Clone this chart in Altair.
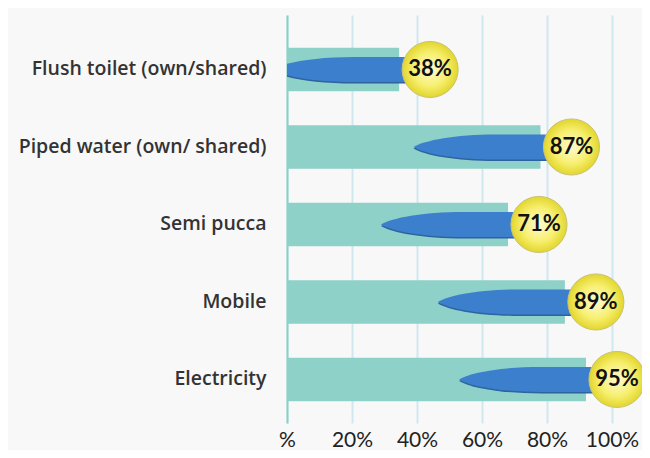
import altair as alt
import pandas as pd

categories = ["Flush toilet  (own/shared)", "Piped water (own/ shared)", "Semi pucca", "Mobile", "Electricity"]
values = [38, 87, 71, 89, 95]
bar_ends = [34.5, 78, 68, 85.5, 92]
labels = [f"{v}%" for v in values]

df = pd.DataFrame({"cat": categories, "value": values, "bar": bar_ends, "label": labels})

FONT = "Open Sans"
ELLIPSE = "M -2 0 C -1.85 -0.09 -1.45 -0.167 -0.9 -0.167 L 0 -0.167 L 0 0.167 L -0.9 0.167 C -1.45 0.167 -1.85 0.09 -2 0 Z"

yenc = alt.Y(
    "cat:N",
    sort=categories,
    scale=alt.Scale(paddingInner=0.44, paddingOuter=0.3526, align=0.6),
    axis=alt.Axis(
        title=None, ticks=False, domain=True, domainColor="#8ccfc7", domainWidth=2,
        labelFont=FONT, labelFontSize=19.5, labelFontWeight=600, labelColor="#333333",
        labelPadding=21, labelLimit=300,
    ),
)
xenc = alt.X(
    "bar:Q",
    scale=alt.Scale(domain=[0, 100], nice=False),
    axis=alt.Axis(
        title=None, values=[0, 20, 40, 60, 80, 100], ticks=False, domain=False,
        grid=True, gridColor="#cfe8ee", gridWidth=2,
        labelExpr="datum.value == 0 ? '%' : datum.value + '%'",
        labelFont="Lato", labelFontSize=21, labelColor="#222222", labelPadding=6,
        labelFlush=False,
    ),
)

base = alt.Chart(df)
ycat = alt.Y("cat:N", sort=categories)

bars = base.mark_bar(color="#8ed1c9").encode(x=xenc, y=yenc)

shadow = base.mark_point(
    shape=ELLIPSE, size=150 * 150, filled=True, color="#2f639f", opacity=1,
    xOffset=23, yOffset=1.5, clip=True,
).encode(x="bar:Q", y=ycat)

ellipse = base.mark_point(
    shape=ELLIPSE, size=150 * 150, filled=True, color="#3c7fcc", opacity=1,
    xOffset=23, clip=True,
).encode(x="bar:Q", y=ycat)

circles = base.mark_point(
    shape="circle", size=3150, filled=True, opacity=1,
    fill=alt.RadialGradient(
        gradient="radial",
        stops=[
            alt.GradientStop(offset=0, color="#fdfbd0"),
            alt.GradientStop(offset=0.6, color="#f7ef70"),
            alt.GradientStop(offset=1, color="#e2d62c"),
        ],
    ),
    stroke="#c9c27a", strokeWidth=1, xOffset=31,
).encode(x="bar:Q", y=ycat)

text = base.mark_text(
    font="Lato", fontSize=22, fontWeight="bold", color="#111111", xOffset=31,
).encode(x="bar:Q", y=ycat, text="label:N")

chart = (
    alt.layer(bars, shadow, ellipse, circles, text)
    .properties(
        width=325, height=408,
        autosize="none",
        padding={"left": 279, "top": 7, "right": 30, "bottom": 27},
        background="#f8f8f8",
    )
    .configure_view(stroke=None, fill="#f8f8f8")
)

chart.save("out.html", embed_options={"renderer": "svg", "actions": False})
